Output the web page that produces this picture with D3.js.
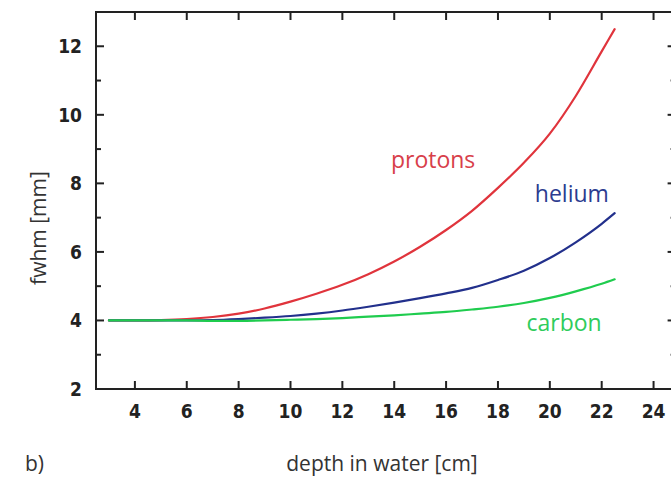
<!DOCTYPE html>
<html>
<head>
<meta charset="utf-8">
<script src="https://cdn.jsdelivr.net/npm/d3@7"></script>
<style>
  body { margin: 0; background: #fff; }
  .tick-label { font-family: "DejaVu Sans Condensed", "DejaVu Sans", sans-serif; font-weight: bold; font-size: 19px; fill: #222; }
  .axis-title { font-family: "Open Sans", "Noto Sans", sans-serif; font-size: 21px; fill: #333; }
  .series-label { font-family: "Open Sans", "Noto Sans", sans-serif; font-size: 23px; }
</style>
</head>
<body>
<svg id="chart" width="671" height="478"></svg>
<script>
// depth in water [cm]
const depth   = [3, 4, 5, 6, 7, 8, 9, 10, 11, 12, 13, 14, 15, 16, 17, 18, 19, 20, 21, 22, 22.5];
// fwhm [mm]
const protons = [4.0, 4.0, 4.01, 4.04, 4.1, 4.2, 4.35, 4.55, 4.78, 5.04, 5.35, 5.72, 6.15, 6.64, 7.2, 7.87, 8.6, 9.45, 10.55, 11.85, 12.5];
const helium  = [4.0, 4.0, 4.0, 4.0, 4.01, 4.04, 4.08, 4.13, 4.2, 4.29, 4.4, 4.52, 4.65, 4.79, 4.95, 5.18, 5.45, 5.82, 6.28, 6.82, 7.13];
const carbon  = [4.0, 4.0, 4.0, 4.0, 3.99, 3.99, 4.0, 4.02, 4.04, 4.07, 4.11, 4.15, 4.2, 4.25, 4.32, 4.4, 4.51, 4.66, 4.85, 5.07, 5.2];

const xTicks = [4, 6, 8, 10, 12, 14, 16, 18, 20, 22, 24];
const yTicks = [2, 4, 6, 8, 10, 12];
const yMinor = [3, 5, 7, 9, 11];

const seriesNames  = ["protons", "helium", "carbon"];
const seriesValues = [protons, helium, carbon];
const lineColors   = ["#e0343c", "#22308c", "#1fcc4e"];
const textColors   = ["#d8404a", "#2c3c90", "#2fcc5c"];
// label anchor in data units (x, y)
const labelPos     = [[15.5, 8.7], [20.85, 7.73], [20.55, 3.95]];

const svg = d3.select("#chart");
const x = d3.scaleLinear().domain([2.5, 24.85]).range([96, 675.6]);
const y = d3.scaleLinear().domain([2, 13]).range([389, 12]);

const frame = svg.append("g").attr("stroke", "#222").attr("stroke-width", 2).attr("fill", "none");
frame.append("rect")
  .attr("x", x(2.5)).attr("y", y(13))
  .attr("width", x(24.85) - x(2.5)).attr("height", y(2) - y(13));

// ticks, all pointing inward
const major = 8, minor = 5;
const tickG = svg.append("g").attr("stroke", "#222").attr("stroke-width", 2);
xTicks.forEach(t => {
  tickG.append("line").attr("x1", x(t)).attr("x2", x(t)).attr("y1", y(2)).attr("y2", y(2) - major);
  tickG.append("line").attr("x1", x(t)).attr("x2", x(t)).attr("y1", y(13)).attr("y2", y(13) + major);
});
yTicks.concat(yMinor).forEach(t => {
  const len = yMinor.includes(t) ? minor : major;
  tickG.append("line").attr("y1", y(t)).attr("y2", y(t)).attr("x1", x(2.5)).attr("x2", x(2.5) + len);
  tickG.append("line").attr("y1", y(t)).attr("y2", y(t)).attr("x1", x(24.85)).attr("x2", x(24.85) - len);
});

svg.append("g").selectAll("text").data(xTicks).join("text")
  .attr("class", "tick-label")
  .attr("x", d => x(d)).attr("y", 411)
  .attr("text-anchor", "middle").attr("dominant-baseline", "central")
  .text(d => d);

svg.append("g").selectAll("text").data(yTicks).join("text")
  .attr("class", "tick-label")
  .attr("x", 82).attr("y", d => y(d))
  .attr("text-anchor", "end").attr("dominant-baseline", "central")
  .text(d => d);

const line = d3.line()
  .x((d, i) => x(depth[i]))
  .y(d => y(d))
  .curve(d3.curveMonotoneX);

seriesValues.forEach((vals, k) => {
  svg.append("path")
    .attr("d", line(vals))
    .attr("fill", "none")
    .attr("stroke", lineColors[k])
    .attr("stroke-width", 2.2)
    .attr("stroke-linecap", "round");
});

svg.selectAll("text.series-label").data(seriesNames).join("text")
  .attr("class", "series-label")
  .attr("x", (d, i) => x(labelPos[i][0]))
  .attr("y", (d, i) => y(labelPos[i][1]))
  .attr("fill", (d, i) => textColors[i])
  .attr("text-anchor", "middle").attr("dominant-baseline", "central")
  .text(d => d);

svg.append("text").attr("class", "axis-title")
  .attr("x", 382).attr("y", 463)
  .attr("text-anchor", "middle").attr("dominant-baseline", "central")
  .text("depth in water [cm]");

svg.append("text").attr("class", "axis-title")
  .attr("transform", "translate(38,228) rotate(-90)")
  .attr("text-anchor", "middle").attr("dominant-baseline", "central")
  .text("fwhm [mm]");

svg.append("text").attr("class", "axis-title")
  .attr("x", 25).attr("y", 463)
  .attr("dominant-baseline", "central")
  .text("b)");
</script>
</body>
</html>
